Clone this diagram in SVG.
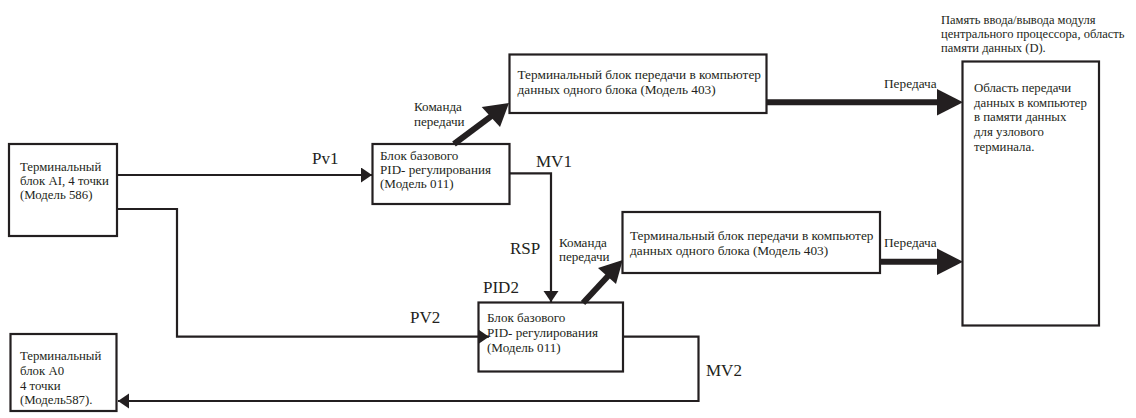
<svg xmlns="http://www.w3.org/2000/svg" width="1136" height="418" viewBox="0 0 1136 418" font-family="Liberation Serif, Times New Roman, serif">
<defs>
<style>
.box{fill:#fff;stroke:#231f20;stroke-width:2.2}
.t{font-size:12.8px;fill:#231f20}
.h{font-size:12.5px;fill:#231f20}
.m{font-size:13.3px;fill:#231f20}
.p{font-size:13.1px;fill:#231f20}
.big{font-size:17px;fill:#231f20}
.ln{fill:none;stroke:#231f20;stroke-width:2.2}
.thick{fill:none;stroke:#231f20;stroke-width:6}
.head{fill:#231f20}
</style>
<marker id="ah" markerUnits="userSpaceOnUse" markerWidth="12" markerHeight="16" refX="11" refY="7.5" orient="auto">
<path d="M0,0 L11,7.5 L0,15 z" fill="#231f20"/>
</marker>
</defs>
<rect width="1136" height="418" fill="#fff"/>
<g id="ai">
<rect class="box" x="9" y="144" width="108" height="92"/>
<text class="t" x="20" y="171">Терминальный</text>
<text class="t" x="20" y="185">блок AI, 4 точки</text>
<text class="t" x="20" y="199">(Модель 586)</text>
</g>
<g id="pid1">
<rect class="box" x="372.5" y="144" width="137" height="60"/>
<text class="p" x="380" y="160">Блок базового</text>
<text class="p" x="380" y="174">PID- регулирования</text>
<text class="p" x="380" y="188">(Модель 011)</text>
</g>
<g id="t403a">
<rect class="box" x="509.5" y="54.5" width="257" height="58.5"/>
<text class="m" x="517.5" y="78.5">Терминальный блок передачи в компьютер</text>
<text class="m" x="517.5" y="94">данных одного блока (Модель 403)</text>
</g>
<g id="t403b">
<rect class="box" x="622.5" y="212" width="257.5" height="61"/>
<text class="m" x="630" y="240">Терминальный блок передачи в компьютер</text>
<text class="m" x="630" y="255">данных одного блока (Модель 403)</text>
</g>
<g id="pid2">
<rect class="box" x="478.5" y="302.5" width="144.5" height="69"/>
<text class="p" x="487" y="322">Блок базового</text>
<text class="p" x="487" y="337">PID- регулирования</text>
<text class="p" x="487" y="352">(Модель 011)</text>
</g>
<g id="ao">
<rect class="box" x="10.5" y="334" width="106" height="77"/>
<text class="t" x="20" y="360">Терминальный</text>
<text class="t" x="20" y="375">блок А0</text>
<text class="t" x="20" y="390">4 точки</text>
<text class="t" x="20" y="404">(Модель587).</text>
</g>
<g id="mem">
<text class="h" x="941" y="24">Память ввода/вывода модуля</text>
<text class="h" x="941" y="38">центрального процессора, область</text>
<text class="h" x="941" y="52">памяти данных (D).</text>
<rect class="box" x="962.5" y="61.5" width="136.5" height="264"/>
<text class="t" x="974" y="92">Область передачи</text>
<text class="t" x="974" y="107">данных в компьютер</text>
<text class="t" x="974" y="121">в памяти данных</text>
<text class="t" x="974" y="136">для узлового</text>
<text class="t" x="974" y="151">терминала.</text>
</g>
<g id="connectors">
<path class="ln" d="M117,175 H372" marker-end="url(#ah)"/>
<path class="ln" d="M117,209 H177 V336.7 H489" marker-end="url(#ah)"/>
<path class="ln" d="M509.5,173.3 H551 V302" marker-end="url(#ah)"/>
<path class="ln" d="M623,336.7 H698.5 V401 H118" marker-end="url(#ah)"/>
<line class="thick" x1="454" y1="144" x2="492" y2="115.7"/>
<polygon class="head" points="509,103 481.7,107 500,127"/>
<line class="thick" x1="583" y1="303" x2="609" y2="275"/>
<polygon class="head" points="622.7,260 598,268 616,284"/>
<line class="thick" x1="766" y1="102.3" x2="938" y2="102.3"/>
<polygon class="head" points="937,89 963,102.3 937,115.6"/>
<line class="thick" x1="880" y1="261.7" x2="938" y2="261.7"/>
<polygon class="head" points="937,248.5 963,261.7 937,275"/>
<text class="big" x="312" y="164">Pv1</text>
<text class="big" x="536" y="167">MV1</text>
<text class="big" x="510" y="254">RSP</text>
<text class="big" x="483" y="293">PID2</text>
<text class="big" x="410" y="323">PV2</text>
<text class="big" x="706" y="376">MV2</text>
<text class="p" x="414" y="111">Команда</text>
<text class="p" x="414" y="126">передачи</text>
<text class="p" x="559" y="247">Команда</text>
<text class="p" x="559" y="261">передачи</text>
<text class="m" x="884" y="88">Передача</text>
<text class="m" x="884" y="247">Передача</text>
</g>
</svg>
